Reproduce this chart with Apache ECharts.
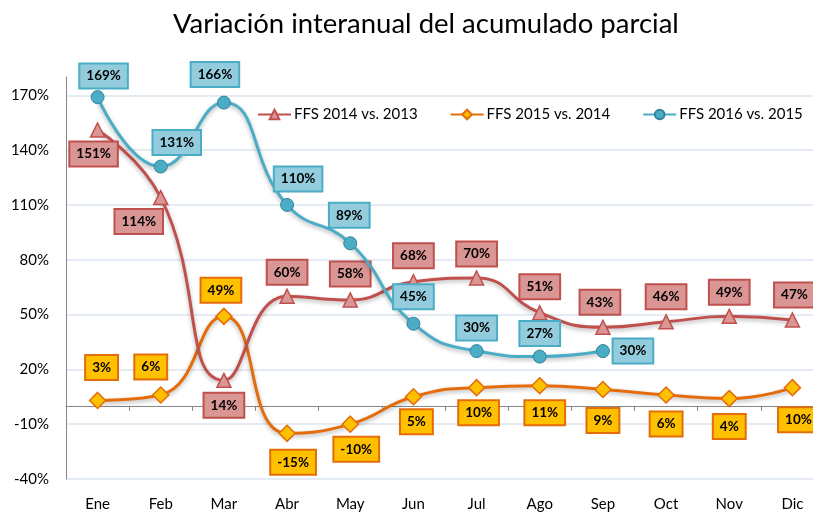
<!DOCTYPE html>
<html>
<head>
<meta charset="utf-8">
<script src="https://cdn.jsdelivr.net/npm/echarts@6/dist/echarts.min.js"></script>
<style>
  html, body { margin: 0; padding: 0; background: #fff; }
  #chart { width: 813px; height: 512px; }
</style>
</head>
<body>
<div id="chart"></div>
<script>
const months = ['Ene', 'Feb', 'Mar', 'Abr', 'May', 'Jun', 'Jul', 'Ago', 'Sep', 'Oct', 'Nov', 'Dic'];
const ffs2014 = [151, 114, 14, 60, 58, 68, 70, 51, 43, 46, 49, 47];
const ffs2015 = [3, 6, 49, -15, -10, 5, 10, 11, 9, 6, 4, 10];
const ffs2016 = [169, 131, 166, 110, 89, 45, 30, 27, 30, null, null, null];

// desplazamiento de cada etiqueta respecto a su punto
const offs2014 = [[-4, 24], [-22, 24], [0, 25], [0, -24], [0, -26], [0, -26], [0, -24], [0, -26], [-3, -25], [0, -25], [0, -24], [2, -25]];
const offs2015 = [[4, -33], [-10, -28], [-3, -26], [6, 29], [6, 25], [3, 25], [2, 25], [5, 27], [0, 31], [0, 29], [0, 28], [6, 32]];
const offs2016 = [[6, -21], [16, -24], [-9, -28], [11, -26], [-1, -28], [0, -27], [0, -23], [0, -23], [30, 0]];

const font = 'Lato, "Open Sans", sans-serif';

const labelBase = (bg, border) => ({
  show: true,
  position: 'inside',
  formatter: (p) => p.value + '%',
  fontFamily: font,
  fontWeight: 'bold',
  fontSize: 13.5,
  lineHeight: 16,
  color: '#000',
  backgroundColor: bg,
  borderColor: border,
  borderWidth: 2,
  padding: [4, 6, 3, 6]
});

const buildData = (values, offsets) => values.map((v, i) => (
  v === null ? null : { value: v, label: { offset: offsets[i] } }
));

const lineShadow = {
  shadowColor: 'rgba(0,0,0,0.3)',
  shadowBlur: 4,
  shadowOffsetY: 2
};

const myChart = echarts.init(document.getElementById('chart'));

const option = {
  animation: false,
  title: {
    text: 'Variación interanual del acumulado parcial',
    left: 168,
    top: 5,
    textStyle: {
      fontFamily: font,
      fontWeight: 'normal',
      fontSize: 27.5,
      color: '#000'
    }
  },
  legend: {
    left: 252,
    top: 102,
    itemWidth: 33,
    itemHeight: 12,
    itemGap: 32,
    textStyle: { fontFamily: font, fontSize: 15, color: '#000', padding: [0, 0, 0, -2] },
    data: ['FFS 2014 vs. 2013', 'FFS 2015 vs. 2014', 'FFS 2016 vs. 2015']
  },
  grid: {
    left: 66,
    width: 758,
    top: 77,
    bottom: 33,
    outerBoundsMode: 'none',
    containLabel: false
  },
  xAxis: [
    {
      type: 'category',
      data: months,
      position: 'bottom',
      axisLine: { onZero: true, lineStyle: { color: '#868686', width: 1 } },
      axisTick: { show: true, length: 5, lineStyle: { color: '#868686' } },
      axisLabel: { show: false },
      splitLine: { show: false }
    },
    {
      type: 'category',
      data: months,
      position: 'bottom',
      axisLine: { show: false, onZero: false },
      axisTick: { show: false },
      axisLabel: { fontFamily: font, fontSize: 15, color: '#000', margin: 18 },
      splitLine: { show: false }
    }
  ],
  yAxis: {
    type: 'value',
    min: -40,
    max: 180,
    interval: 30,
    axisLine: { show: true, lineStyle: { color: '#868686' } },
    axisTick: { show: false },
    axisLabel: {
      fontFamily: font,
      fontSize: 15,
      color: '#000',
      margin: 17,
      formatter: (v) => (v >= 180 ? '' : v + '%')
    },
    splitLine: {
      lineStyle: {
        color: ['#dbe5f1', '#dbe5f1', '#dbe5f1', '#dbe5f1', '#dbe5f1', '#dbe5f1', '#dbe5f1', '#dbe5f1', 'rgba(0,0,0,0)'],
        width: 1.5
      }
    }
  },
  series: [
    {
      name: 'FFS 2014 vs. 2013',
      type: 'line',
      smooth: 0.5,
      data: buildData(ffs2014, offs2014),
      symbol: 'triangle',
      symbolSize: 14,
      lineStyle: Object.assign({ color: '#c0504d', width: 3 }, lineShadow),
      itemStyle: { color: '#d99694', borderColor: '#c0504d', borderWidth: 1.5 },
      label: labelBase('#d99694', '#c0504d'),
      z: 3
    },
    {
      name: 'FFS 2015 vs. 2014',
      type: 'line',
      smooth: 0.5,
      data: buildData(ffs2015, offs2015),
      symbol: 'diamond',
      symbolSize: 16,
      lineStyle: Object.assign({ color: '#e46c0a', width: 3 }, lineShadow),
      itemStyle: { color: '#ffc000', borderColor: '#e46c0a', borderWidth: 1.5 },
      label: labelBase('#ffc000', '#e46c0a'),
      z: 2
    },
    {
      name: 'FFS 2016 vs. 2015',
      type: 'line',
      smooth: 0.5,
      data: buildData(ffs2016, offs2016),
      symbol: 'circle',
      symbolSize: 13,
      lineStyle: Object.assign({ color: '#4bacc6', width: 3 }, lineShadow),
      itemStyle: { color: '#4bacc6', borderColor: '#31849b', borderWidth: 1 },
      label: labelBase('#93cddd', '#4bacc6'),
      z: 4
    }
  ]
};

myChart.setOption(option);
</script>
</body>
</html>
